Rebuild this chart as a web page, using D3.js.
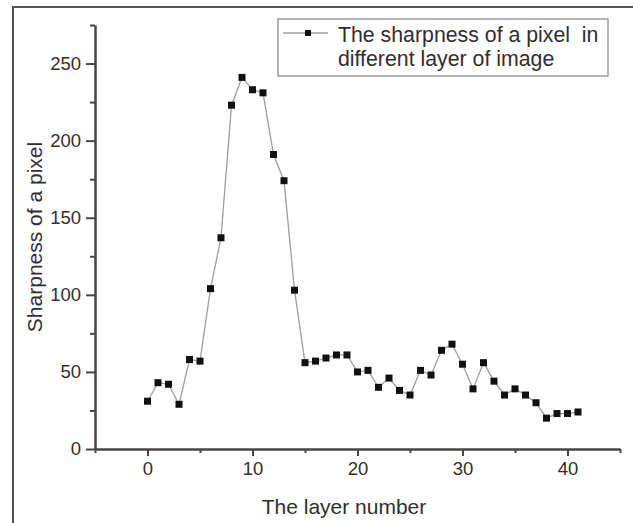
<!DOCTYPE html>
<html>
<head>
<meta charset="utf-8">
<script src="https://cdn.jsdelivr.net/npm/d3@7"></script>
<style>
    body { margin: 0; background: #fff; }
    svg text { font-family: Arial, "Liberation Sans", sans-serif; fill: #332e2e; }
    .axis path, .axis line { stroke: #4a4545; stroke-width: 2px; }
</style>
</head>
<body>
<div id="chart"></div>
<script>
// layer numbers and sharpness values
var layers = [0, 1, 2, 3, 4, 5, 6, 7, 8, 9, 10, 11, 12, 13, 14, 15, 16, 17, 18, 19, 20,
    21, 22, 23, 24, 25, 26, 27, 28, 29, 30, 31, 32, 33, 34, 35, 36, 37, 38, 39, 40, 41];
var sharpness = [31, 43, 42, 29, 58, 57, 104, 137, 223, 241, 233, 231, 191, 174, 103, 56,
    57, 59, 61, 61, 50, 51, 40, 46, 38, 35, 51, 48, 64, 68, 55, 39, 56, 44, 35, 39,
    35, 30, 20, 23, 23, 24];
var xTicks = [0, 10, 20, 30, 40];
var xMinor = [-5, 5, 15, 25, 35, 45];
var yTicks = [0, 50, 100, 150, 200, 250];
var yMinor = [25, 75, 125, 175, 225, 275];
var legendLines = ["The sharpness of a pixel  in", "different layer of image"];

var W = 633, H = 523;
var margin = {top: 25, right: 13, bottom: 74, left: 95};

var svg = d3.select("#chart").append("svg")
    .attr("width", W)
    .attr("height", H);

// outer frame (left and top edges only show)
svg.append("line").attr("x1", 13).attr("y1", 7).attr("x2", 13).attr("y2", H)
    .attr("stroke", "#555").attr("stroke-width", 2);
svg.append("line").attr("x1", 12).attr("y1", 7).attr("x2", W).attr("y2", 7)
    .attr("stroke", "#555").attr("stroke-width", 2);

// scales
var x = d3.scaleLinear().domain([-5, 45]).range([margin.left, W - margin.right]);
var y = d3.scaleLinear().domain([0, 275]).range([H - margin.bottom, margin.top]);

// axes, major then minor ticks
svg.append("g").attr("class", "axis")
    .attr("transform", `translate(0,${y(0)})`)
    .call(d3.axisBottom(x).tickValues(xTicks).tickSize(7).tickPadding(6).tickSizeOuter(0))
    .call(g => g.selectAll("text").style("font-size", "18.5px").attr("fill", "#332e2e"));
svg.append("g").attr("class", "axis")
    .attr("transform", `translate(0,${y(0)})`)
    .call(d3.axisBottom(x).tickValues(xMinor).tickSize(4).tickFormat("").tickSizeOuter(0));

svg.append("g").attr("class", "axis")
    .attr("transform", `translate(${x(-5)},0)`)
    .call(d3.axisLeft(y).tickValues(yTicks).tickSize(9).tickPadding(5).tickSizeOuter(0))
    .call(g => g.selectAll("text").style("font-size", "18.5px").attr("fill", "#332e2e"));
svg.append("g").attr("class", "axis")
    .attr("transform", `translate(${x(-5)},0)`)
    .call(d3.axisLeft(y).tickValues(yMinor).tickSize(5).tickFormat("").tickSizeOuter(0));

// axis titles
svg.append("text")
    .attr("x", 344)
    .attr("y", 514)
    .attr("text-anchor", "middle")
    .style("font-size", "21px")
    .text("The layer number");

svg.append("text")
    .attr("transform", `translate(42,237) rotate(-90)`)
    .attr("text-anchor", "middle")
    .style("font-size", "21px")
    .text("Sharpness of a pixel");

// the series
var data = layers.map((d, i) => ({layer: d, value: sharpness[i]}));

svg.append("path")
    .datum(data)
    .attr("fill", "none")
    .attr("stroke", "#a39c9a")
    .attr("stroke-width", 1.3)
    .attr("d", d3.line().x(d => x(d.layer)).y(d => y(d.value)));

svg.append("g")
    .selectAll("rect")
    .data(data)
    .enter()
    .append("rect")
    .attr("x", d => x(d.layer) - 3.5)
    .attr("y", d => y(d.value) - 3.5)
    .attr("width", 7)
    .attr("height", 7)
    .attr("fill", "#111");

// legend
var legend = svg.append("g");
legend.append("rect")
    .attr("x", 278).attr("y", 19)
    .attr("width", 330).attr("height", 57)
    .attr("fill", "#fff")
    .attr("stroke", "#a09a98")
    .attr("stroke-width", 1.5);
legend.append("line")
    .attr("x1", 283).attr("y1", 33).attr("x2", 328).attr("y2", 33)
    .attr("stroke", "#a39c9a").attr("stroke-width", 1.3);
legend.append("rect")
    .attr("x", 305).attr("y", 30).attr("width", 6).attr("height", 6)
    .attr("fill", "#111");
legend.selectAll("text.leg")
    .data(legendLines)
    .enter()
    .append("text")
    .attr("class", "leg")
    .attr("x", 338)
    .attr("y", (d, i) => 42 + i * 24)
    .attr("xml:space", "preserve")
    .style("white-space", "pre")
    .style("font-size", "21.3px")
    .text(d => d);
</script>
</body>
</html>
